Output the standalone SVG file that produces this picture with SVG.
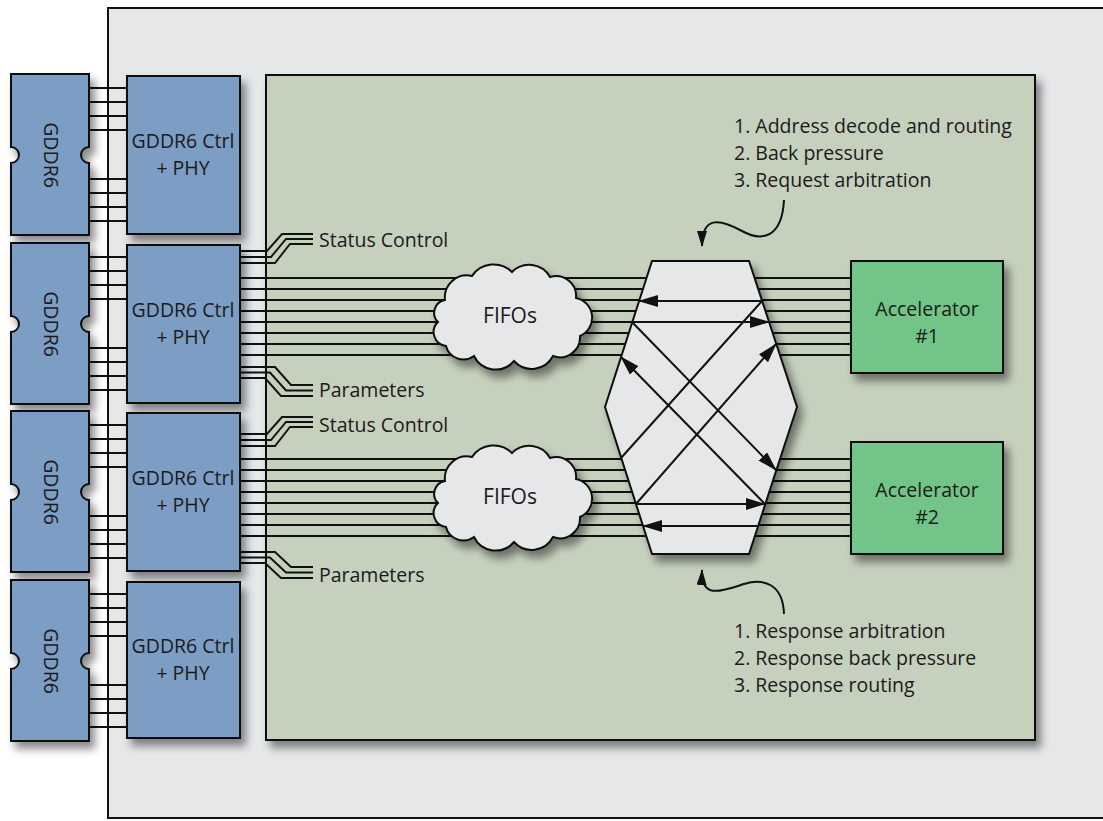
<svg xmlns="http://www.w3.org/2000/svg" width="1103" height="821" viewBox="0 0 1103 821">
<style>
  .lbl{font-family:"Open Sans","Liberation Sans",sans-serif;fill:#1c1a1b;}
  .blk{stroke:#111;stroke-width:2;}
  .chip{fill:#7b9dc4;}
  .acc{fill:#72c489;}
  .w{fill:none;stroke:#111;stroke-width:1.9;}
  .arr{fill:none;stroke:#111;stroke-width:2;}
</style>
<defs>
  <filter id="sh" x="-20%" y="-20%" width="150%" height="150%">
    <feDropShadow dx="5" dy="7" stdDeviation="4" flood-color="#000" flood-opacity="0.45"/>
  </filter>
  <marker id="ah" markerWidth="20" markerHeight="12" refX="19" refY="6" orient="auto" markerUnits="userSpaceOnUse">
    <path d="M0,0 L20,6 L0,12 Z" fill="#111"/>
  </marker>
  <marker id="ah2" markerWidth="16" markerHeight="10" refX="15" refY="5" orient="auto" markerUnits="userSpaceOnUse">
    <path d="M0,0 L16,5 L0,10 Z" fill="#111"/>
  </marker>
</defs>

<rect id="board" x="108" y="8" width="1010" height="810" fill="#e6e7e9" stroke="#111" stroke-width="2"/>
<rect id="fabric" x="266" y="75" width="769" height="665" fill="#c5d0bd" stroke="#111" stroke-width="2" filter="url(#sh)"/>

<g id="connectors">
  <g class="w">
    <path d="M89,88H127M89,102H127M89,116H127M89,130H127M89,179H127M89,193H127M89,207H127M89,221H127"/>
    <path d="M89,257H127M89,271H127M89,285H127M89,299H127M89,348H127M89,362H127M89,376H127M89,390H127"/>
    <path d="M89,425H127M89,439H127M89,453H127M89,467H127M89,516H127M89,530H127M89,544H127M89,558H127"/>
    <path d="M89,594H127M89,608H127M89,622H127M89,636H127M89,685H127M89,699H127M89,713H127M89,727H127"/>
  </g>
  <g class="w">
    <path d="M240,278H851M240,289H851M240,300H851M240,311H851M240,322H851M240,333H851M240,344H851M240,355H851"/>
    <path d="M240,459H851M240,470H851M240,481H851M240,492H851M240,503H851M240,514H851M240,525H851M240,536H851"/>
  </g>
  <g class="w">
    <path d="M240,251H267L282,234H313M240,257H271L286,239H313M240,263H275L290,244H313"/>
    <path d="M240,367H275L291,385H313M240,372.5H270L286,390.5H313M240,378H265L281,396H313"/>
    <path d="M240,434H267L282,417H313M240,440H271L286,422H313M240,446H275L290,427H313"/>
    <path d="M240,552H275L291,567H313M240,557.5H270L286,572.5H313M240,563H265L281,578H313"/>
  </g>
  <path class="arr" d="M784,200 C782,238 762,242 742,231 C722,220 702,214 702,246" marker-end="url(#ah2)"/>
  <path class="arr" d="M784,614 C783,584 764,578 744,584 C722,591 701,600 702,570" marker-end="url(#ah2)"/>
</g>

<g id="gddr6-1" filter="url(#sh)">
  <path class="chip blk" d="M11,74H89V147A8,8 0 0 0 89,163V235H11V163A8,8 0 0 0 11,147Z"/>
</g>
<g id="gddr6-2" filter="url(#sh)">
  <path class="chip blk" d="M11,243H89V316A8,8 0 0 0 89,332V404H11V332A8,8 0 0 0 11,316Z"/>
</g>
<g id="gddr6-3" filter="url(#sh)">
  <path class="chip blk" d="M11,411H89V484A8,8 0 0 0 89,500V572H11V500A8,8 0 0 0 11,484Z"/>
</g>
<g id="gddr6-4" filter="url(#sh)">
  <path class="chip blk" d="M11,580H89V653A8,8 0 0 0 89,669V741H11V669A8,8 0 0 0 11,653Z"/>
</g>
<g class="lbl" font-size="19.5" text-anchor="middle">
  <text x="50" y="161" transform="rotate(90 50 155)">GDDR6</text>
  <text x="50" y="330" transform="rotate(90 50 324)">GDDR6</text>
  <text x="50" y="498" transform="rotate(90 50 492)">GDDR6</text>
  <text x="50" y="667" transform="rotate(90 50 661)">GDDR6</text>
</g>

<g id="ctrl-1"><rect class="chip blk" x="127" y="76" width="113" height="158" filter="url(#sh)"/>
  <text class="lbl" font-size="19.5" text-anchor="middle" x="183" y="148">GDDR6 Ctrl</text>
  <text class="lbl" font-size="19.5" text-anchor="middle" x="183" y="175">+ PHY</text></g>
<g id="ctrl-2"><rect class="chip blk" x="127" y="245" width="113" height="158" filter="url(#sh)"/>
  <text class="lbl" font-size="19.5" text-anchor="middle" x="183" y="317">GDDR6 Ctrl</text>
  <text class="lbl" font-size="19.5" text-anchor="middle" x="183" y="344">+ PHY</text></g>
<g id="ctrl-3"><rect class="chip blk" x="127" y="413" width="113" height="158" filter="url(#sh)"/>
  <text class="lbl" font-size="19.5" text-anchor="middle" x="183" y="485">GDDR6 Ctrl</text>
  <text class="lbl" font-size="19.5" text-anchor="middle" x="183" y="512">+ PHY</text></g>
<g id="ctrl-4"><rect class="chip blk" x="127" y="582" width="113" height="156" filter="url(#sh)"/>
  <text class="lbl" font-size="19.5" text-anchor="middle" x="183" y="653">GDDR6 Ctrl</text>
  <text class="lbl" font-size="19.5" text-anchor="middle" x="183" y="680">+ PHY</text></g>

<g id="bus-labels" class="lbl" font-size="19.5">
  <text x="319" y="247">Status Control</text>
  <text x="319" y="397">Parameters</text>
  <text x="319" y="432">Status Control</text>
  <text x="319" y="582">Parameters</text>
</g>

<g id="fifo-1">
  <path class="blk" fill="#e6e7e9" filter="url(#sh)" d="M445,300 A22,22 0 0 1 472,276 A26,26 0 0 1 512,272 A24,24 0 0 1 550,277 A20,20 0 0 1 576,298 A20,20 0 0 1 580,336 A20,20 0 0 1 553,356 A24,24 0 0 1 514,361 A24,24 0 0 1 474,356 A18,18 0 0 1 446,346 A14,14 0 0 1 438,322 A13,13 0 0 1 445,300 Z"/>
  <text class="lbl" font-size="21" text-anchor="middle" x="510" y="323">FIFOs</text>
</g>
<g id="fifo-2">
  <path class="blk" fill="#e6e7e9" filter="url(#sh)" d="M445,481 A22,22 0 0 1 472,457 A26,26 0 0 1 512,453 A24,24 0 0 1 550,458 A20,20 0 0 1 576,479 A20,20 0 0 1 580,517 A20,20 0 0 1 553,537 A24,24 0 0 1 514,542 A24,24 0 0 1 474,537 A18,18 0 0 1 446,527 A14,14 0 0 1 438,503 A13,13 0 0 1 445,481 Z"/>
  <text class="lbl" font-size="21" text-anchor="middle" x="510" y="504">FIFOs</text>
</g>

<g id="crossbar">
  <polygon class="blk" fill="#e6e7e9" filter="url(#sh)" points="652,261 749,261 797,407 749,554 652,554 605,407"/>
  <g class="arr">
    <line x1="762" y1="301" x2="639" y2="301" marker-end="url(#ah)"/>
    <line x1="632" y1="322" x2="769" y2="322" marker-end="url(#ah)"/>
    <line x1="632" y1="322" x2="776" y2="470" marker-end="url(#ah)"/>
    <line x1="621" y1="458" x2="762" y2="301"/>
    <line x1="765" y1="504" x2="621" y2="357" marker-end="url(#ah)"/>
    <line x1="636" y1="504" x2="776" y2="344" marker-end="url(#ah)"/>
    <line x1="636" y1="504" x2="765" y2="504" marker-end="url(#ah)"/>
    <line x1="758" y1="526" x2="643" y2="526" marker-end="url(#ah)"/>
  </g>
</g>

<g id="accel-1">
  <rect class="acc blk" x="851" y="261" width="152" height="112" filter="url(#sh)"/>
  <text class="lbl" font-size="19.5" text-anchor="middle" x="927" y="316">Accelerator</text>
  <text class="lbl" font-size="19.5" text-anchor="middle" x="927" y="343">#1</text>
</g>
<g id="accel-2">
  <rect class="acc blk" x="851" y="442" width="152" height="112" filter="url(#sh)"/>
  <text class="lbl" font-size="19.5" text-anchor="middle" x="927" y="497">Accelerator</text>
  <text class="lbl" font-size="19.5" text-anchor="middle" x="927" y="524">#2</text>
</g>

<g id="note-request" class="lbl" font-size="19.5">
  <text x="734" y="133">1. Address decode and routing</text>
  <text x="734" y="160">2. Back pressure</text>
  <text x="734" y="187">3. Request arbitration</text>
</g>
<g id="note-response" class="lbl" font-size="19.5">
  <text x="734" y="638">1. Response arbitration</text>
  <text x="734" y="665">2. Response back pressure</text>
  <text x="734" y="692">3. Response routing</text>
</g>
</svg>
